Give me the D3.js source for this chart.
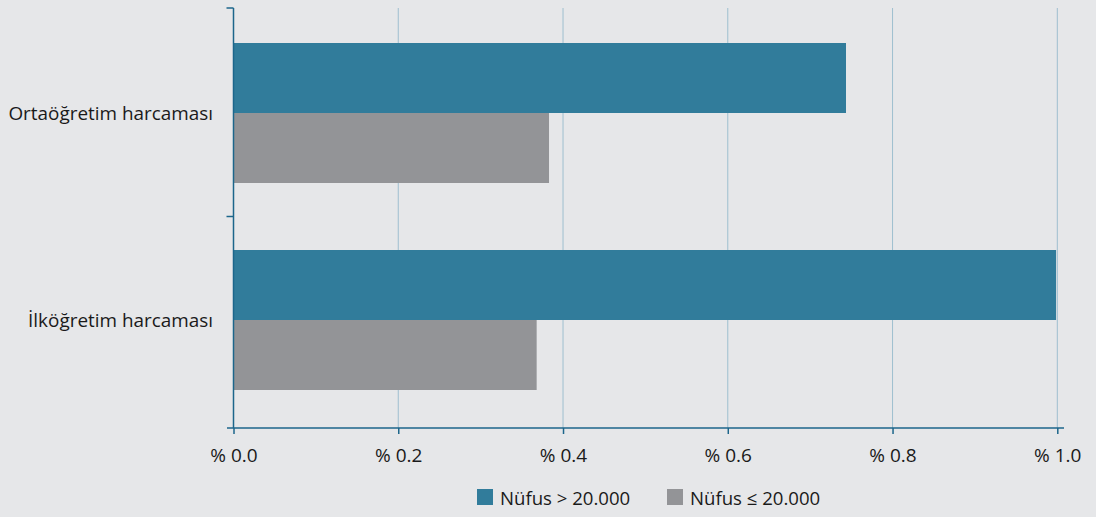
<!DOCTYPE html>
<html><head><meta charset="utf-8">
<script src="https://cdn.jsdelivr.net/npm/d3@7"></script>
<style>
html,body{margin:0;padding:0;background:#e6e7e9;}
svg{display:block;}
text{font-family:"Open Sans","Liberation Sans",sans-serif;fill:#1a1a1a;}
</style></head>
<body>
<script>
const categories = ["Ortaöğretim harcaması", "İlköğretim harcaması"];
const seriesNames = ["Nüfus > 20.000", "Nüfus ≤ 20.000"];
const seriesBig = [0.7435, 0.9985];
const seriesSmall = [0.383, 0.368];
const xTicks = [0, 0.2, 0.4, 0.6, 0.8, 1.0];
const colors = ["#317c9b", "#939497"];

const W = 1096, H = 517;
const svg = d3.select("body").append("svg").attr("width", W).attr("height", H);
svg.append("rect").attr("width", W).attr("height", H).attr("fill", "#e6e7e9");

const x = d3.scaleLinear().domain([0, 1]).range([233.5, 1057.3]);
const y = d3.scaleBand().domain(categories).range([8, 425]).paddingInner(67/207).paddingOuter(35/207);
const ySub = d3.scaleBand().domain([0, 1]).range([0, y.bandwidth()]);

const data = categories.map((c, i) => ({cat: c, vals: [seriesBig[i], seriesSmall[i]]}));

// gridlines
svg.append("g").selectAll("line").data(xTicks.filter(t => t > 0)).join("line")
  .attr("x1", d => x(d)).attr("x2", d => x(d))
  .attr("y1", 8).attr("y2", 428)
  .attr("stroke", "#9ebfcf").attr("stroke-width", 1);

// bars
const g = svg.append("g").selectAll("g").data(data).join("g")
  .attr("transform", d => `translate(0,${y(d.cat)})`);
g.selectAll("rect").data(d => d.vals).join("rect")
  .attr("x", x(0))
  .attr("y", (d, i) => ySub(i))
  .attr("width", d => x(d) - x(0))
  .attr("height", ySub.bandwidth())
  .attr("fill", (d, i) => colors[i]);

const axisColor = "#1c668b";
// x axis
const xAxis = svg.append("g").attr("transform", "translate(0,428)")
  .call(d3.axisBottom(x).tickValues(xTicks).tickSize(6).tickSizeOuter(0)
    .tickFormat(d => "% " + d3.format(".1f")(d)));
xAxis.select(".domain").remove();
xAxis.append("line").attr("x1", 227).attr("x2", 1064).attr("y1", 0).attr("y2", 0)
  .attr("stroke", axisColor).attr("stroke-width", 1.5);
xAxis.selectAll(".tick line").attr("stroke", axisColor).attr("stroke-width", 1.5);
xAxis.selectAll(".tick text").attr("font-size", 19).attr("y", 34).attr("dy", 0).attr("fill", "#1a1a1a");

// y axis
const yAx = svg.append("g");
yAx.append("line").attr("x1", x(0)).attr("x2", x(0)).attr("y1", 8).attr("y2", 428)
  .attr("stroke", axisColor).attr("stroke-width", 1.5);
const bounds = [8, y(categories[1]) - y.step() * y.paddingInner() / 2];
yAx.selectAll("line.t").data(bounds).join("line").attr("class", "t")
  .attr("x1", x(0) - 7).attr("x2", x(0)).attr("y1", d => d).attr("y2", d => d)
  .attr("stroke", axisColor).attr("stroke-width", 1.5);
yAx.selectAll("text").data(categories).join("text")
  .attr("x", 213).attr("y", d => y(d) + y.bandwidth() / 2)
  .attr("dy", "0.36em").attr("text-anchor", "end").attr("font-size", 18.9)
  .text(d => d);

// legend
const legX = [477, 667];
const leg = svg.append("g").selectAll("g").data(seriesNames).join("g")
  .attr("transform", (d, i) => `translate(${legX[i]},489)`);
leg.append("rect").attr("width", 16).attr("height", 16).attr("fill", (d, i) => colors[i]);
leg.append("text").attr("x", 23).attr("y", 16).attr("font-size", 18.6).text(d => d);
</script>
</body></html>
